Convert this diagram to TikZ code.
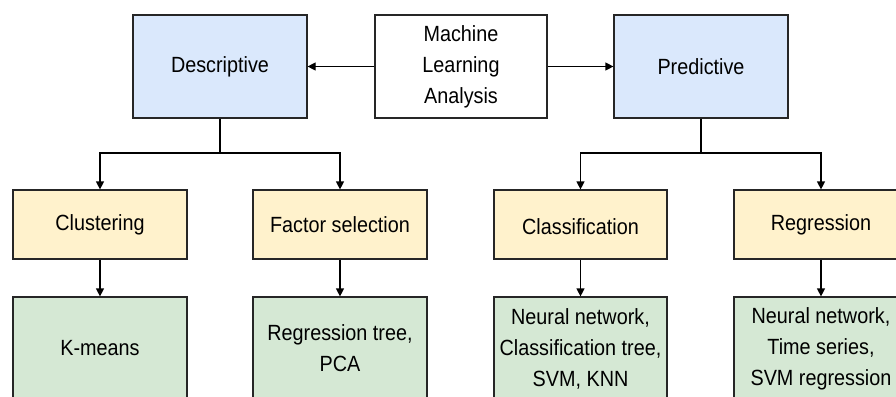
\documentclass[tikz,border=0pt]{standalone}
\usepackage{fontspec}
\setmainfont{Liberation Sans}[FakeStretch=0.9]
\usetikzlibrary{arrows.meta}
\definecolor{bluef}{HTML}{DAE8FC}
\definecolor{yellowf}{HTML}{FFF2CC}
\definecolor{greenf}{HTML}{D5E8D4}
\tikzset{
  box/.style={draw=black!85, line width=1.2pt, align=center, inner sep=0pt,
    font=\fontsize{22}{31}\selectfont},
  topbox/.style={box, minimum width=174pt, minimum height=103pt},
  midbox/.style={box, fill=yellowf, minimum width=174pt, minimum height=69pt},
  lowbox/.style={box, fill=greenf, minimum width=174pt, minimum height=103pt},
  arr/.style={line width=1.2pt, -{Triangle[length=8pt,width=8pt]}},
  ln/.style={line width=1.2pt}
}
\begin{document}
\begin{tikzpicture}[x=1pt,y=-1pt]
\useasboundingbox (0,0) rectangle (896,396);
\clip (0,0) rectangle (896,396);
\fill[white] (0,0) rectangle (896,396);
\node[topbox, fill=bluef] (desc) at (220,66.5) {Descriptive};
\node[topbox, fill=white, minimum width=172pt] (ml) at (461,66.5) {Machine\\Learning\\Analysis};
\node[topbox, fill=bluef] (pred) at (701,66.5) {Predictive};
\node[midbox] (clu) at (100,224.5) {Clustering};
\node[midbox] (fac) at (340,224.5) {Factor selection};
\node[midbox, minimum width=173pt, text height=19pt, text depth=0pt] (cla) at (580.5,224.5) {Classification};
\node[midbox] (reg) at (821,224.5) {Regression};
\node[lowbox] (km) at (100,348.5) {K-means};
\node[lowbox] (rt) at (340,348.5) {Regression tree,\\PCA};
\node[lowbox, minimum width=173pt] (nn1) at (580.5,348.5) {Neural network,\\Classification tree,\\SVM, KNN};
\node[lowbox] (nn2) at (821,348.5) {Neural network,\\Time series,\\SVM regression};
\coordinate (dj) at (220,153);
\coordinate (pj) at (701,153);
\draw[arr] (ml.west) -- (desc.east);
\draw[arr] (ml.east) -- (pred.west);
\draw[ln] (desc.south) -- (dj);
\draw[arr] (dj) -| (clu.north);
\draw[arr] (dj) -| (fac.north);
\draw[ln] (pred.south) -- (pj);
\draw[arr] (pj) -| (cla.north);
\draw[arr] (pj) -| (reg.north);
\draw[arr] (clu.south) -- (km.north);
\draw[arr] (fac.south) -- (rt.north);
\draw[arr] (cla.south) -- (nn1.north);
\draw[arr] (reg.south) -- (nn2.north);
\end{tikzpicture}
\end{document}
